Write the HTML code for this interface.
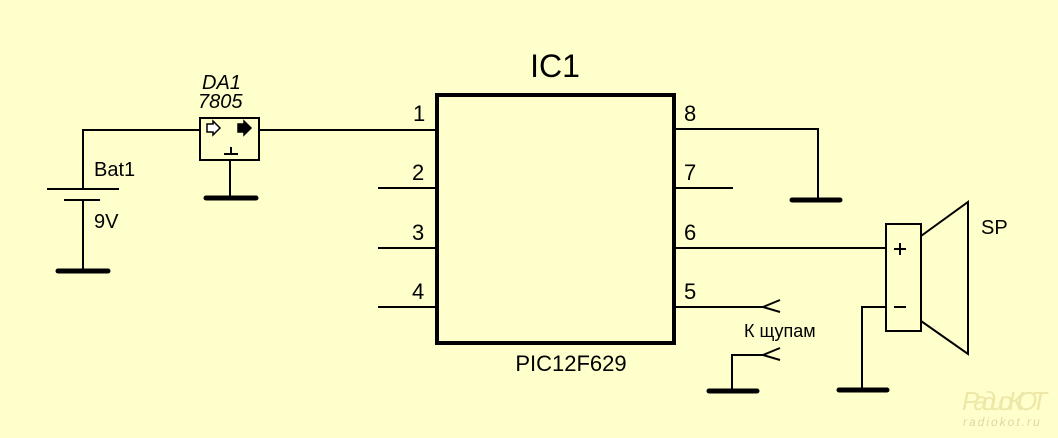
<!DOCTYPE html>
<html><head><meta charset="utf-8"><style>
body{margin:0;background:#FFFFCC;}
svg{display:block}
text{font-family:"Liberation Sans",Arial,sans-serif;fill:#000}
</style></head><body>
<svg width="1058" height="438" viewBox="0 0 1058 438" xmlns="http://www.w3.org/2000/svg">
<rect width="1058" height="438" fill="#FFFFCC"/>
<g stroke="#000" stroke-width="2" fill="none">
<polyline points="200,130 83,130 83,189"/>
<line x1="47" y1="189" x2="119" y2="189"/>
<line x1="64" y1="200" x2="100" y2="200"/>
<line x1="83" y1="200" x2="83" y2="271"/>
<rect x="200" y="118" width="59" height="42"/>
<line x1="259" y1="130" x2="437" y2="130"/>
<line x1="230" y1="160" x2="230" y2="198"/>
<line x1="224" y1="154" x2="238" y2="154"/>
<line x1="231" y1="147" x2="231" y2="154"/>
<line x1="378" y1="188" x2="437" y2="188"/>
<line x1="378" y1="248" x2="437" y2="248"/>
<line x1="378" y1="307" x2="437" y2="307"/>
<polyline points="674,129 818,129 818,200"/>
<line x1="674" y1="188" x2="733" y2="188"/>
<line x1="674" y1="248" x2="885" y2="248"/>
<line x1="674" y1="307" x2="763" y2="307"/>
<polyline points="780,300 763,307 780,312"/>
<polyline points="780,348 763,355 780,360"/>
<polyline points="763,355 732,355 732,391"/>
<rect x="886" y="224" width="35" height="107"/>
<polyline points="921,236 968,202 968,354 921,321"/>
<line x1="894" y1="249" x2="906" y2="249"/>
<line x1="900" y1="243" x2="900" y2="255"/>
<line x1="894" y1="307" x2="906" y2="307"/>
<polyline points="886,307 862,307 862,390"/>
</g>
<rect x="437" y="95" width="237" height="248" fill="none" stroke="#000" stroke-width="4"/>
<g stroke="#000" stroke-width="5" stroke-linecap="round">
<line x1="58" y1="271" x2="108" y2="271"/>
<line x1="206" y1="198" x2="256" y2="198"/>
<line x1="792" y1="200" x2="840" y2="200"/>
<line x1="709" y1="391" x2="757" y2="391"/>
<line x1="839" y1="390" x2="887" y2="390"/>
</g>
<path d="M207,124 h6 v-3 l7,7 l-7,7 v-3 h-6 z" fill="#fff" stroke="#000" stroke-width="1.5"/>
<path d="M238,124 h6 v-3 l7,7 l-7,7 v-3 h-6 z" fill="#000" stroke="#000" stroke-width="1.5"/>
<text x="94" y="176" font-size="20">Bat1</text>
<text x="94" y="228" font-size="20">9V</text>
<text x="202" y="89" font-size="20" font-style="italic">DA1</text>
<text x="198" y="108" font-size="20" font-style="italic">7805</text>
<text x="555" y="77" font-size="32" text-anchor="middle">IC1</text>
<text x="571" y="371" font-size="22" text-anchor="middle">PIC12F629</text>
<g font-size="22">
<text x="413" y="121">1</text>
<text x="412" y="180">2</text>
<text x="412" y="240">3</text>
<text x="412" y="299">4</text>
<text x="684" y="121">8</text>
<text x="684" y="180">7</text>
<text x="684" y="240">6</text>
<text x="684" y="299">5</text>
</g>
<text x="744" y="337" font-size="18">К щупам</text>
<text x="981" y="234" font-size="20">SP</text>
<text x="962" y="410" font-size="26" style="fill:#EDE8A8" font-style="italic" textLength="85">Радио КОТ</text>
<text x="963" y="426" font-size="12" style="fill:#DCD8A8" font-style="italic" letter-spacing="2">radiokot.ru</text>
</svg>
</body></html>
